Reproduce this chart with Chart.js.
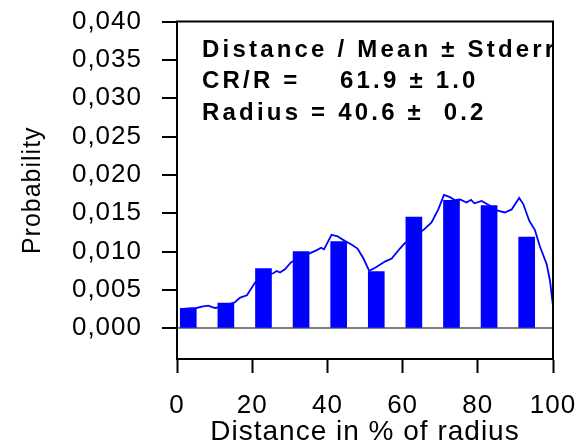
<!DOCTYPE html>
<html>
<head>
<meta charset="utf-8">
<script src="https://cdn.jsdelivr.net/npm/chart.js@4/dist/chart.umd.min.js"></script>
<style>
  body { margin: 0; background: #fff; }
  #wrap { width: 580px; height: 448px; }
</style>
</head>
<body>
<div id="wrap"><canvas id="grafico"></canvas></div>
<script>
// histogram bins (bin centre in % of radius) and their probability
var binCentres = [3, 13, 23, 33, 43, 53, 63, 73, 83, 93];
var binValues = [0.0026, 0.0033, 0.0078, 0.0100, 0.0113, 0.0074, 0.0145, 0.0167, 0.0160, 0.0119];

// smoothed distribution curve
var curveX = [1, 3, 5.2, 6.6, 8.3, 10.1, 12, 13.5, 15.4, 16.8, 18.6, 20.8, 23, 24.7, 25.6, 26.5, 27.4, 28.7, 30.3,
  32.5, 35.4, 37.2, 38.3, 39.1, 41.1, 42.7, 44.6, 46.5, 48, 49.6, 51.1, 52.7, 55.3, 57.1, 59.3, 60.6, 63, 65.5,
  67.7, 69.5, 71, 72.6, 73.9, 75.3, 77, 78.2, 79.1, 81, 82.8, 85.5, 87.2, 89, 91, 92.1, 93.7, 95.2, 96.5, 98.3,
  99.2, 100];
var curveY = [0.0025, 0.0026, 0.00265, 0.00283, 0.00296, 0.00265, 0.0028, 0.0031, 0.0034, 0.0040, 0.0043, 0.0060,
  0.0068, 0.00705, 0.00718, 0.00748, 0.00727, 0.0077, 0.0086, 0.0092, 0.0098, 0.0102, 0.0105, 0.0103, 0.0122,
  0.0120, 0.0114, 0.0109, 0.0104, 0.0091, 0.0075, 0.0079, 0.0087, 0.0091, 0.0104, 0.0111, 0.0120, 0.0128,
  0.0138, 0.0155, 0.0174, 0.0171, 0.0167, 0.0168, 0.0164, 0.01675, 0.0163, 0.0166, 0.0161, 0.0153, 0.0151,
  0.0155, 0.0170, 0.0162, 0.0140, 0.0128, 0.0107, 0.0084, 0.0062, 0.0029];

var yTicks = { min: -0.004, max: 0.040, step: 0.005 };
var xTicks = { min: 0, max: 100, step: 20 };

var noteLines = ['Distance / Mean \u00b1 Stderr', 'CR/R =    61.9 \u00b1 1.0', 'Radius = 40.6 \u00b1  0.2'];

var fuente = '"Liberation Sans", Arial, sans-serif';

var barras = binCentres.map(function (x, i) { return { x: x, y: binValues[i] }; });
var curva = curveX.map(function (x, i) { return { x: x, y: curveY[i] }; });

// spacing between letters for the axis texts
var espaciado = {
  id: 'espaciado',
  beforeDraw: function (chart) { chart.ctx.letterSpacing = '1px'; }
};

// closed frame around the plot plus the statistics text
var marco = {
  id: 'marco',
  afterDatasetsDraw: function (chart) {
    var ctx = chart.ctx, a = chart.chartArea;
    ctx.save();
    ctx.beginPath();
    ctx.rect(a.left, a.top, a.right - a.left, a.bottom - a.top);
    ctx.clip();
    ctx.letterSpacing = '3.2px';
    ctx.font = 'bold 24px ' + fuente;
    ctx.fillStyle = '#000';
    ctx.textBaseline = 'alphabetic';
    for (var i = 0; i < noteLines.length; i++) {
      ctx.fillText(noteLines[i], a.left + 25, a.top + 35 + i * 31.7);
    }
    ctx.restore();
  },
  afterDraw: function (chart) {
    var ctx = chart.ctx, a = chart.chartArea;
    ctx.save();
    ctx.strokeStyle = '#000';
    ctx.lineWidth = 2;
    ctx.strokeRect(a.left, a.top, a.right - a.left, a.bottom - a.top);
    ctx.restore();
  }
};

new Chart(document.getElementById('grafico'), {
  type: 'bar',
  data: {
    datasets: [{
      type: 'bar',
      data: barras,
      backgroundColor: '#0000ff',
      barThickness: 16,
      order: 1
    }, {
      type: 'line',
      data: curva,
      borderColor: '#0000ff',
      borderWidth: 1.8,
      pointRadius: 0,
      tension: 0,
      order: 2
    }]
  },
  options: {
    responsive: true,
    maintainAspectRatio: false,
    animation: false,
    devicePixelRatio: 1,
    layout: { padding: 0 },
    plugins: { legend: { display: false }, tooltip: { enabled: false } },
    scales: {
      x: {
        type: 'linear',
        offset: false,
        min: xTicks.min,
        max: xTicks.max,
        afterFit: function (axis) {
          axis.height = 89;
          axis.paddingLeft = 0;
          axis.paddingRight = 27;
        },
        grid: { offset: false, drawOnChartArea: false, tickLength: 14, tickColor: '#000', tickWidth: 2 },
        border: { color: '#000', width: 2 },
        ticks: {
          stepSize: xTicks.step,
          maxRotation: 0,
          padding: 17,
          color: '#000',
          font: { family: fuente, size: 26 }
        },
        title: {
          display: true,
          text: 'Distance in % of radius',
          color: '#000',
          font: { family: fuente, size: 28, lineHeight: 1 },
          padding: { top: 0, bottom: 2 }
        }
      },
      y: {
        min: yTicks.min,
        max: yTicks.max,
        afterFit: function (axis) {
          axis.width = 177;
          axis.paddingTop = 21.5;
          axis.paddingBottom = 0;
        },
        afterBuildTicks: function (axis) {
          axis.ticks = axis.ticks.filter(function (t) { return t.value > -1e-9; });
        },
        grid: {
          color: function (c) { return c.tick && Math.abs(c.tick.value) < 1e-9 ? '#808080' : 'rgba(0,0,0,0)'; },
          lineWidth: 2,
          tickLength: 15,
          tickColor: '#000',
          tickWidth: 2
        },
        border: { color: '#000', width: 2 },
        ticks: {
          stepSize: yTicks.step,
          padding: 20,
          color: '#000',
          font: { family: fuente, size: 26 },
          callback: function (v) { return v.toFixed(3).replace('.', ','); }
        },
        title: {
          display: true,
          text: 'Probability',
          color: '#000',
          font: { family: fuente, size: 25, lineHeight: 1 },
          padding: { top: 20.5, bottom: 0 }
        }
      }
    }
  },
  plugins: [espaciado, marco]
});
</script>
</body>
</html>
